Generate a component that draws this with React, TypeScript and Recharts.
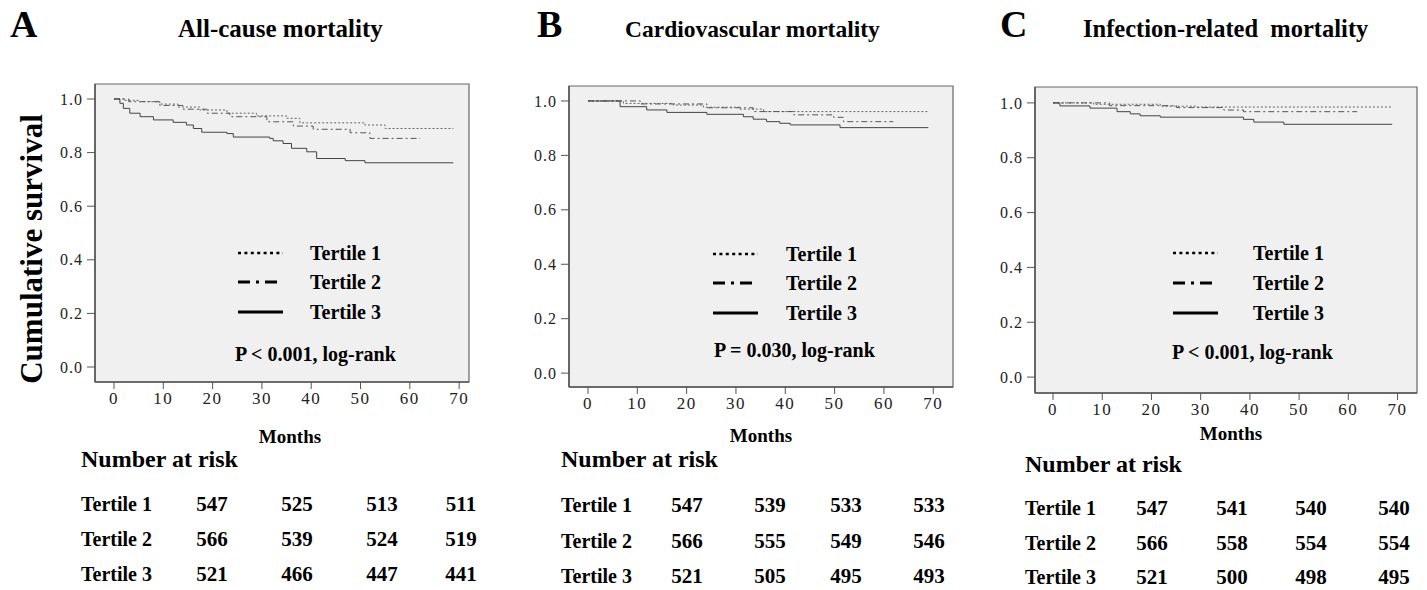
import React from "react";
import { LineChart, Line, XAxis, YAxis, CartesianGrid, ReferenceArea } from "recharts";

// Kaplan-Meier steps: [month, cumulative survival]
const A_T1 = [[0, 1], [2, 0.995], [5, 0.99], [9.3, 0.981], [13, 0.97], [17.4, 0.959], [22.9, 0.947], [28.9, 0.937], [35, 0.928], [37.7, 0.911], [50.9, 0.903], [55, 0.89], [68.8, 0.889]];
const A_T2 = [[0, 1], [3, 0.99], [9.3, 0.976], [14, 0.962], [18.8, 0.947], [23.5, 0.934], [31, 0.915], [36.4, 0.899], [40.4, 0.887], [47.9, 0.874], [51.9, 0.853], [62.1, 0.853]];
const A_T3 = [[0, 1], [1.2, 0.984], [1.9, 0.965], [3.2, 0.947], [5.3, 0.934], [8, 0.922], [12, 0.913], [14.7, 0.903], [16.1, 0.89], [17.8, 0.876], [22.9, 0.871], [24.2, 0.858], [31.6, 0.853], [32.3, 0.844], [34.3, 0.834], [36, 0.816], [39.1, 0.803], [41.1, 0.778], [46.9, 0.77], [50.9, 0.762], [68.8, 0.762]];

const B_T1 = [[0, 1], [7.2, 0.991], [17.3, 0.985], [23.4, 0.977], [30.8, 0.97], [35.6, 0.961], [69, 0.961]];
const B_T2 = [[0, 1], [10.6, 0.989], [24.1, 0.975], [33.5, 0.961], [41.7, 0.949], [49.8, 0.94], [51.8, 0.924], [61.9, 0.924]];
const B_T3 = [[0, 1], [6.5, 0.979], [11.9, 0.967], [16, 0.958], [24.1, 0.951], [31.5, 0.942], [33.5, 0.933], [36.2, 0.924], [38.9, 0.918], [41, 0.912], [51.1, 0.902], [69, 0.902]];

const C_T1 = [[0, 1], [8.2, 0.995], [21.8, 0.988], [29.2, 0.985], [68.9, 0.985]];
const C_T2 = [[0, 1], [11.5, 0.99], [25.1, 0.983], [34.7, 0.974], [38.7, 0.968], [61.8, 0.968]];
const C_T3 = [[0, 1], [1.4, 0.989], [7.5, 0.981], [13, 0.968], [15.7, 0.96], [17.7, 0.953], [21.8, 0.948], [38.7, 0.94], [40.8, 0.93], [46.9, 0.922], [68.9, 0.922]];

const MONTH_TICKS = [0, 10, 20, 30, 40, 50, 60, 70];
const SURV_TICKS = [0, 0.2, 0.4, 0.6, 0.8, 1.0];
const TERTILES = ["Tertile 1", "Tertile 2", "Tertile 3"];

const TITLES = ["All-cause mortality", "Cardiovascular mortality", "Infection-related  mortality"];
const LETTERS = ["A", "B", "C"];
const P_TEXT = ["P < 0.001, log-rank", "P = 0.030, log-rank", "P < 0.001, log-rank"];

const A_RISK = [[547, 525, 513, 511], [566, 539, 524, 519], [521, 466, 447, 441]];
const B_RISK = [[547, 539, 533, 533], [566, 555, 549, 546], [521, 505, 495, 493]];
const C_RISK = [[547, 541, 540, 540], [566, 558, 554, 554], [521, 500, 498, 495]];

const FONT = "'Liberation Serif', 'Times New Roman', serif";

const LINE_STYLE = [
  { stroke: "#666", dash: "2 2", legendDash: "3 3.4" },
  { stroke: "#555", dash: "6 3 2 3", legendDash: "12 6 3 6" },
  { stroke: "#444", dash: undefined, legendDash: undefined },
];

const toPts = (arr: number[][]) => arr.map(([m, s]) => ({ m, s }));

// chart placement per panel (layout only)
const PANELS = [
  {
    series: [A_T1, A_T2, A_T3], risk: A_RISK,
    left: 45, top: 74, width: 429, height: 348, xDom: [-3.85, 72], yDom: [-0.056, 1.056],
    letterX: 10, titleX: 178, titleSize: 25,
    legX: 238, legTextX: 310, legY: [253, 282, 312], pX: 235, pY: 361,
    monthsX: 290, monthsY: 443,
    riskLabelX: 81, riskHeadY: 467, riskCols: [212, 297, 382, 461], riskRows: [511, 546, 581],
  },
  {
    series: [B_T1, B_T2, B_T3], risk: B_RISK,
    left: 519, top: 76, width: 439, height: 351, xDom: [-3.85, 74], yDom: [-0.051, 1.055],
    letterX: 537, titleX: 625, titleSize: 23.5,
    legX: 713, legTextX: 786, legY: [254, 283, 313], pX: 714, pY: 357,
    monthsX: 761, monthsY: 442,
    riskLabelX: 561, riskHeadY: 467, riskCols: [687, 770, 846, 929], riskRows: [512, 548, 583],
  },
  {
    series: [C_T1, C_T2, C_T3], risk: C_RISK,
    left: 985, top: 77, width: 437, height: 356, xDom: [-3.66, 73.95], yDom: [-0.058, 1.058],
    letterX: 1000, titleX: 1083, titleSize: 24.5,
    legX: 1173, legTextX: 1253, legY: [253, 283, 313], pX: 1172, pY: 359,
    monthsX: 1231, monthsY: 440,
    riskLabelX: 1025, riskHeadY: 472, riskCols: [1152, 1232, 1311, 1394], riskRows: [515, 550, 584],
  },
];

function XTick(props: any) {
  return (
    <text
      x={props.x}
      y={props.y}
      dy="0.72em"
      textAnchor="middle"
      fill="#222"
      style={{ fontFamily: FONT, fontSize: 17, letterSpacing: 1.5 }}
    >
      {props.payload.value}
    </text>
  );
}

function YTick(props: any) {
  return (
    <text
      x={props.x}
      y={props.y}
      dy="0.35em"
      textAnchor="end"
      fill="#222"
      style={{ fontFamily: FONT, fontSize: 16, letterSpacing: 1 }}
    >
      {Number(props.payload.value).toFixed(1)}
    </text>
  );
}

function Panel({ p }: { p: (typeof PANELS)[number] }) {
  return (
    <div style={{ position: "absolute", left: p.left, top: p.top }}>
      <LineChart width={p.width} height={p.height} margin={{ top: 10, right: 5, left: 0, bottom: 0 }}>
        <CartesianGrid horizontal={false} vertical={false} fill="#f0f0f0" />
        <XAxis
          type="number"
          dataKey="m"
          domain={p.xDom}
          ticks={MONTH_TICKS}
          allowDataOverflow
          height={40}
          tickSize={7}
          tickMargin={3}
          axisLine={{ stroke: "#555", strokeWidth: 1.5 }}
          tickLine={{ stroke: "#555" }}
          tick={(t: any) => <XTick {...t} />}
        />
        <YAxis
          type="number"
          domain={p.yDom}
          ticks={SURV_TICKS}
          allowDataOverflow
          width={50}
          tickSize={8}
          tickMargin={4}
          axisLine={{ stroke: "#555", strokeWidth: 1.5 }}
          tickLine={{ stroke: "#555" }}
          tick={(t: any) => <YTick {...t} />}
        />
        <ReferenceArea
          x1={p.xDom[0]}
          x2={p.xDom[1]}
          y1={p.yDom[0]}
          y2={p.yDom[1]}
          fill="none"
          stroke="#666"
          strokeWidth={1.2}
        />
        {p.series.map((s, i) => (
          <Line
            key={TERTILES[i]}
            name={TERTILES[i]}
            data={toPts(s)}
            dataKey="s"
            type="stepAfter"
            stroke={LINE_STYLE[i].stroke}
            strokeWidth={1}
            strokeDasharray={LINE_STYLE[i].dash}
            dot={false}
            isAnimationActive={false}
          />
        ))}
      </LineChart>
    </div>
  );
}

export default function App() {
  return (
    <div style={{ position: "absolute", left: 0, top: 0, width: 1427, height: 590, background: "#fff", overflow: "hidden" }}>
      {PANELS.map((p, i) => (
        <Panel key={i} p={p} />
      ))}
      <svg width={1427} height={590} style={{ position: "absolute", left: 0, top: 0, pointerEvents: "none" }} fontFamily={FONT} fontWeight="bold">
        <text transform="translate(42,249) rotate(-90)" textAnchor="middle" fontSize={31} fill="#000">
          Cumulative survival
        </text>
        {PANELS.map((p, i) => (
          <g key={i}>
            <text x={p.letterX} y={37} fontSize={38}>{LETTERS[i]}</text>
            <text x={p.titleX} y={37} fontSize={p.titleSize} style={{ whiteSpace: "pre" }}>
              {TITLES[i]}
            </text>
            {TERTILES.map((t, k) => (
              <g key={t}>
                <line
                  x1={p.legX}
                  x2={p.legX + 45}
                  y1={p.legY[k]}
                  y2={p.legY[k]}
                  stroke="#000"
                  strokeWidth={k === 0 ? 2.5 : 3}
                  strokeDasharray={LINE_STYLE[k].legendDash}
                />
                <text x={p.legTextX} y={p.legY[k] + 7} fontSize={20}>{t}</text>
              </g>
            ))}
            <text x={p.pX} y={p.pY} fontSize={20}>{P_TEXT[i]}</text>
            <text x={p.monthsX} y={p.monthsY} fontSize={19} textAnchor="middle">Months</text>
            <text x={p.riskLabelX} y={p.riskHeadY} fontSize={24}>Number at risk</text>
            {p.risk.map((row, r) => (
              <g key={r}>
                <text x={p.riskLabelX} y={p.riskRows[r]} fontSize={20}>{TERTILES[r]}</text>
                {row.map((n, c) => (
                  <text key={c} x={p.riskCols[c]} y={p.riskRows[r]} fontSize={21} textAnchor="middle">{n}</text>
                ))}
              </g>
            ))}
          </g>
        ))}
      </svg>
    </div>
  );
}
